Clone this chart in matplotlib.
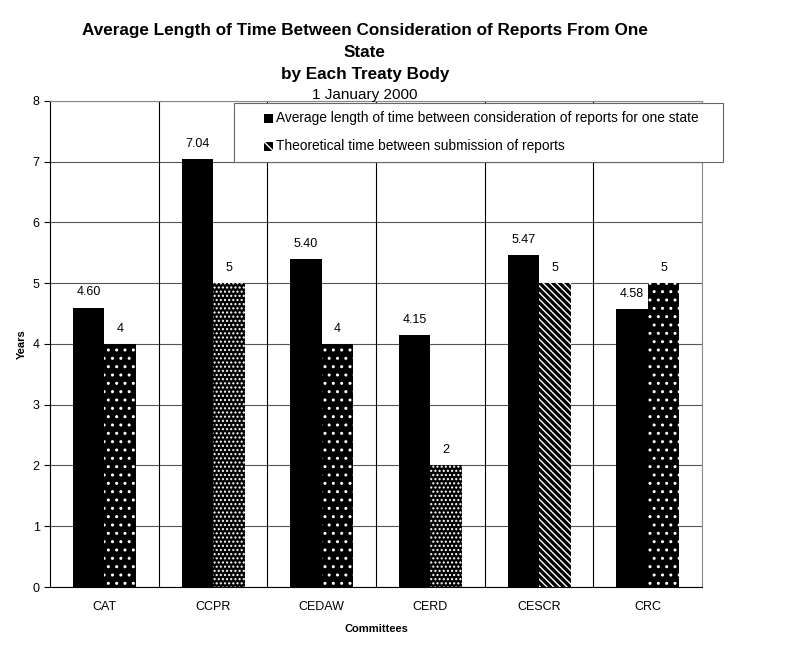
import numpy as np
import matplotlib.pyplot as plt
from matplotlib.patches import Rectangle

plt.rcParams['font.family'] = ['Liberation Sans', 'DejaVu Sans']

committees = ["CAT", "CCPR", "CEDAW", "CERD", "CESCR", "CRC"]
avg_time = [4.60, 7.04, 5.40, 4.15, 5.47, 4.58]
theory_time = [4, 5, 4, 2, 5, 5]
avg_labels = ["4.60", "7.04", "5.40", "4.15", "5.47", "4.58"]
theory_labels = ["4", "5", "4", "2", "5", "5"]
hatches = ["..", "....", "..", "....", "\\\\\\\\\\", ".."]
legend_names = ["Average length of time between consideration of reports for one state",
                "Theoretical time between submission of reports"]

W, H = 807, 649
fig = plt.figure(figsize=(8.07, 6.49), dpi=100)
ax = fig.add_axes([0.062, 0.0955, 0.808, 0.749])

x = np.arange(len(committees))
w = 0.29

ax.bar(x - w/2, avg_time, w, color="black", linewidth=0, zorder=3)
for i in range(len(committees)):
    ax.bar(x[i] + w/2, theory_time[i], w, color="black", edgecolor="white",
           linewidth=0, hatch=hatches[i], zorder=3)
    ax.text(x[i] - w/2, avg_time[i] + 0.15, avg_labels[i], ha="center", va="bottom", fontsize=9)
    ax.text(x[i] + w/2, theory_time[i] + 0.15, theory_labels[i], ha="center", va="bottom", fontsize=9)

ax.set_xlim(-0.5, 5.5)
ax.set_ylim(0, 8)
ax.set_yticks(range(0, 9))
ax.set_xticks(x)
ax.set_xticklabels(committees, fontsize=9)
ax.tick_params(axis="y", labelsize=9, length=4)
ax.tick_params(axis="x", length=0, pad=10)
for b in np.arange(0.5, 5.5, 1):
    ax.axvline(b, color="black", linewidth=0.8, zorder=1)
ax.grid(axis="y", color="#555555", linewidth=0.8, zorder=1)
ax.set_axisbelow(True)
for s in ["top", "right"]:
    ax.spines[s].set_color("#888888")

ax.set_ylabel("Years", fontsize=8, fontweight="bold")
ax.set_xlabel("Committees", fontsize=8, fontweight="bold", labelpad=8)

fig.text(0.452, 0.919, "Average Length of Time Between Consideration of Reports From One\nState\nby Each Treaty Body",
         ha="center", va="center", fontsize=12.3, fontweight="bold", linespacing=1.57)
fig.text(0.452, 0.853, "1 January 2000", ha="center", va="center", fontsize=11)

# legend box drawn by hand
fig.patches.append(Rectangle((234 / W, 1 - 162 / H), (723 - 234) / W, (162 - 103) / H,
                             transform=fig.transFigure, facecolor="white",
                             edgecolor="#666666", linewidth=0.8, zorder=5))
rows = [118, 146]
fig.patches.append(Rectangle((264 / W, 1 - (rows[0] + 4.5) / H), 9 / W, 9 / H,
                             transform=fig.transFigure, facecolor="black",
                             linewidth=0, zorder=6))
fig.patches.append(Rectangle((264 / W, 1 - (rows[1] + 4.5) / H), 9 / W, 9 / H,
                             transform=fig.transFigure, facecolor="black", edgecolor="white",
                             hatch="\\\\\\", linewidth=0, zorder=6))
for r, name in zip(rows, legend_names):
    fig.text(276 / W, 1 - r / H, name, ha="left", va="center", fontsize=9.9, zorder=7)

fig.savefig("out.png", dpi=100)
